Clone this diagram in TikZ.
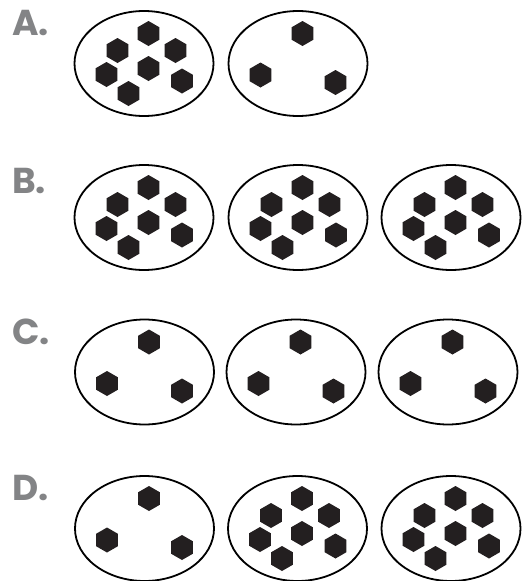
\documentclass[tikz,border=0pt]{standalone}
\usepackage{fontspec}
\setmainfont{Poppins}
\usetikzlibrary{shapes.geometric}
\definecolor{labelgray}{HTML}{838486}
\definecolor{hexfill}{HTML}{231F20}
\begin{document}
\begin{tikzpicture}[x=1pt,y=-1pt,
  group/.style={draw=black,line width=1.8pt,ellipse,inner sep=0pt,
    minimum width=139pt,minimum height=105pt},
  hexa/.style={regular polygon,regular polygon sides=6,shape border rotate=30,
    fill=hexfill,draw=none,inner sep=0pt,minimum size=25pt},
  rowlabel/.style={anchor=base west,inner sep=0pt,text=labelgray,
    font=\fontsize{36}{36}\selectfont\bfseries}]
\useasboundingbox (0,0) rectangle (525,581);

% seven counters in a loose cluster
\newcommand{\sevenhex}[1]{%
  \node[hexa] (#1-1) at ([xshift=4.5pt,yshift=30pt]#1.center) {};
  \node[hexa] (#1-2) at ([xshift=-26.5pt,yshift=13pt]#1.center) {};
  \node[hexa] (#1-3) at ([xshift=31.5pt,yshift=13pt]#1.center) {};
  \node[hexa] (#1-4) at ([xshift=4.5pt,yshift=-5pt]#1.center) {};
  \node[hexa] (#1-5) at ([xshift=-37.5pt,yshift=-11pt]#1.center) {};
  \node[hexa] (#1-6) at ([xshift=38pt,yshift=-17.5pt]#1.center) {};
  \node[hexa] (#1-7) at ([xshift=-15.5pt,yshift=-30pt]#1.center) {};}
% three counters in a triangle
\newcommand{\threehex}[1]{%
  \node[hexa] (#1-1) at ([xshift=4.5pt,yshift=30pt]#1.center) {};
  \node[hexa] (#1-2) at ([xshift=-37.5pt,yshift=-11.5pt]#1.center) {};
  \node[hexa] (#1-3) at ([xshift=37.5pt,yshift=-19pt]#1.center) {};}

% row A
\node[rowlabel] (la) at (12,35) {A.};
\node[group] (a1) at (144,63.5) {};
\node[group] (a2) at (298,63.5) {};
\sevenhex{a1}
\threehex{a2}

% row B
\node[rowlabel] (lb) at (12,193) {B.};
\node[group] (b1) at (144,217.5) {};
\node[group] (b2) at (298,217.5) {};
\node[group] (b3) at (451,217.5) {};
\sevenhex{b1}
\sevenhex{b2}
\sevenhex{b3}

% row C
\node[rowlabel] (lc) at (12,344) {C.};
\node[group] (c1) at (144.5,372) {};
\node[group] (c2) at (296,372) {};
\node[group] (c3) at (448,372) {};
\threehex{c1}
\threehex{c2}
\threehex{c3}

% row D
\node[rowlabel] (ld) at (12,500) {D.};
\node[group] (d1) at (144.5,528.5) {};
\node[group] (d2) at (297.5,528.5) {};
\node[group] (d3) at (451,528.5) {};
\threehex{d1}
\sevenhex{d2}
\sevenhex{d3}
\end{tikzpicture}
\end{document}
